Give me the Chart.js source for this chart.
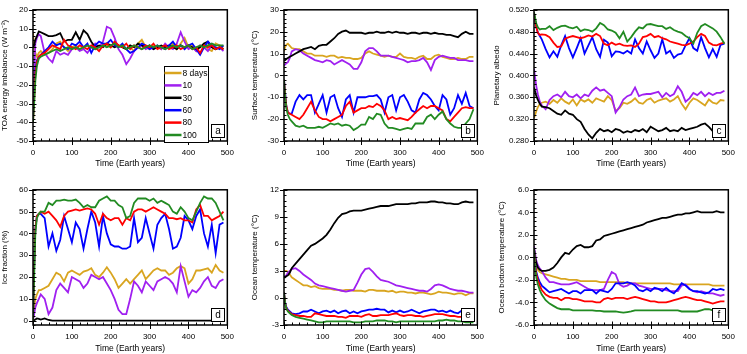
<!DOCTYPE html>
<html>
<head>
<meta charset="utf-8">
<script src="https://cdn.jsdelivr.net/npm/chart.js@4.4.0/dist/chart.umd.min.js"></script>
<style>
  body { margin: 0; background: #fff; width: 747px; height: 354px; position: relative; overflow: hidden; }
  canvas { position: absolute; }
</style>
</head>
<body>
<script>
// Time axis (Earth years), shared by every run
const years = [0, 3, 6, 10, 15, 20, 30, 40, 50, 60, 70, 80, 90, 100, 110, 120, 130, 140, 150, 160, 170, 180, 190, 200,
  210, 220, 230, 240, 250, 260, 270, 280, 290, 300, 310, 320, 330, 340, 350, 360, 370, 380, 390, 400, 410, 420, 430,
  440, 450, 460, 470, 480, 490];

const runLabels = ['8 days', '10', '30', '60', '80', '100'];
const runColors = ['#d9a520', '#a020f0', '#000000', '#0000ff', '#ff0000', '#228b22'];

// tick labels
const xTicks = [0, 100, 200, 300, 400, 500];
const toaTicks = [-50, -40, -30, -20, -10, 0, 10, 20];
const tsTicks = [-30, -20, -10, 0, 10, 20, 30];
const albTicks = [0.28, 0.32, 0.36, 0.40, 0.44, 0.48, 0.52];
const iceTicks = [0, 10, 20, 30, 40, 50, 60];
const ocTicks = [-3, 0, 3, 6, 9, 12];
const obTicks = [-6, -4, -2, 0, 2, 4, 6];

// (a) TOA energy imbalance
const toa8 = [8, 0, -3, -5, -3, -2, -4, -3, -1, 2, 3, 0, -2, 0, 1, -1, 0, 1, 0, -1, 0, 2, 1, 0, 3, 1, 0, -1, 0, -2, 2, 4, 0, -1, 1, 0, -1, 1, 0, 2, -1, 2, 5, 0, 1, -2, 0, 2, -1, -2, 2, 1, 0];
const toa10 = [-38, -15, 2, 5, 7, 6, -3, -6, -8, -2, -4, -3, -4, -1, 0, -2, -1, -3, 0, 2, 0, 3, 11, 10, 5, -1, -4, -9, -6, -2, 0, 1, -1, 0, -1, 1, -1, 2, 0, -1, 2, 8, 3, -1, 0, -2, 1, 0, -2, 1, -1, 0, -2];
const toa30 = [0, 1, 4, 6, 8.5, 8, 7, 6, 6, 6.5, 7.5, 3, 4, 4, 8, 4, 9, 7, 3, 0, 1, 0, 2, 1, 0, 1, 0, -1, 1, 0, 2, 1, 0, 1, -1, 0, 1, 0, 1, 0, -1, 1, 0, 1, 0, -1, 0, 2, 3, 0, -1, 0, -1];
const toa60 = [-38, -25, -12, -7, -5, -4, -2, 0, 3, 1, 2, 0, -1, 2, 1, 3, 0, 2, -3, 1, 3, 2, 2, 4, 1, 0, 2, -1, -3, -2, 0, 2, 1, -1, 0, 1, 0, -1, 1, 3, 0, 1, -1, 1, 2, -1, -4, 0, 3, 1, 0, -1, 1];
const toa80 = [-40, -28, -14, -8, -5, -4, -3, -1, 1, 0, -1, 4, 1, 0, -1, 1, 0, -1, 1, 0, -2, 1, 2, 0, 3, 1, 0, 2, -1, 1, 0, -1, 1, 0, 2, -1, 0, 1, -1, 0, 1, -1, 0, 1, -1, 0, -3, 1, 0, 1, -1, 0, -1];
const toa100 = [-40, -30, -18, -10, -6, -5, -4, -3, -2, -1, -2, -1, 0, -1, 0, -1, 0, 1, 0, -1, 0, 1, 0, 1, 2, 0, 1, -1, 0, 1, 0, -1, 0, 1, 0, 1, 0, -1, 0, 1, 0, 1, 0, 1, -1, 0, 1, 0, 1, 2, 1, 1, 1];

// (b) surface temperature
const ts8 = [11, 13, 14, 14.5, 13.5, 12.5, 12, 12, 11, 10, 10, 9, 9, 9, 8.5, 9, 9, 8, 8.5, 8, 8, 7.5, 7.5, 8, 10, 11, 10, 9.5, 9, 8.5, 9, 8.5, 8.5, 10, 8.5, 8, 8, 7.5, 8.5, 9, 7.5, 7.5, 9, 9.5, 8.5, 8, 7.5, 7.5, 8, 7.5, 7.5, 8.5, 8.5];
const ts10 = [4.5, 5, 5.5, 6, 8, 11, 12, 11.5, 10, 9, 8, 7, 6.5, 6, 7, 6.5, 5, 6, 7, 6, 5, 3, 3, 6, 11, 12.5, 12.5, 11, 9, 9, 9, 8.5, 8, 7.5, 7, 6, 6.5, 6.5, 7, 8, 6, 2.5, 7, 8.5, 9, 8.5, 8, 8, 7, 7, 7, 6.5, 6.5];
const ts30 = [7, 7, 7.5, 8, 8.5, 9, 10, 11, 12, 12.5, 13, 12, 13.5, 14, 14, 15.5, 17, 19, 20, 20.5, 19.5, 19.5, 19.5, 19.5, 19, 19.5, 19.5, 20, 19.5, 19.5, 20, 19.5, 20, 19.5, 19.5, 19, 19.5, 19.5, 19, 19.5, 19.5, 19, 19.5, 19, 19, 18.5, 18.5, 18, 17.5, 19, 20, 19, 19];
const ts60 = [-2, -8, -14, -17, -17.5, -17.5, -12, -9, -11, -9, -9, -17, -13, -9, -17, -10, -9, -15, -19, -11, -9, -17, -10, -10, -10, -9.5, -9.5, -9, -11, -17, -10, -9, -16, -10, -9, -12, -16, -17, -11, -8, -9, -11, -14, -16, -9, -11, -18, -15, -9, -13, -8, -14, -15];
const ts80 = [-2, -9, -14, -17, -17.5, -18, -19, -20, -18, -15, -12, -16, -19, -20, -20, -21, -20, -19, -18, -14, -12, -17, -16, -15, -15, -14, -14.5, -13, -14, -16, -20, -19, -20, -19.5, -20, -20.5, -19, -17, -15.5, -14, -15, -14, -14, -15, -16, -20, -21, -19, -17, -15, -14.5, -15, -15];
const ts100 = [-2, -10, -15, -18, -20, -21, -23, -23.5, -23, -24, -24, -24, -23.5, -24, -23, -22, -22.5, -22, -23, -22.5, -23, -25, -24, -22.5, -22.5, -19, -20, -17.5, -18, -22, -24, -24, -24.5, -25, -24.5, -24, -24.5, -22, -22, -22, -19, -18, -20, -18, -16.5, -20, -22, -23.5, -24, -24, -22, -20, -15.5];

// (c) planetary albedo
const alb8 = [0.322, 0.328, 0.335, 0.342, 0.348, 0.350, 0.352, 0.348, 0.355, 0.350, 0.358, 0.352, 0.348, 0.356, 0.345, 0.356, 0.352, 0.356, 0.350, 0.358, 0.355, 0.352, 0.362, 0.355, 0.335, 0.340, 0.350, 0.348, 0.352, 0.358, 0.350, 0.348, 0.355, 0.358, 0.350, 0.354, 0.356, 0.358, 0.352, 0.356, 0.362, 0.348, 0.338, 0.350, 0.358, 0.355, 0.350, 0.345, 0.356, 0.350, 0.348, 0.355, 0.354];
const alb10 = [0.412, 0.395, 0.380, 0.365, 0.352, 0.345, 0.338, 0.355, 0.362, 0.365, 0.360, 0.370, 0.362, 0.360, 0.365, 0.358, 0.365, 0.362, 0.372, 0.378, 0.372, 0.374, 0.368, 0.362, 0.332, 0.342, 0.356, 0.362, 0.365, 0.378, 0.362, 0.365, 0.366, 0.366, 0.368, 0.370, 0.360, 0.368, 0.362, 0.366, 0.380, 0.370, 0.352, 0.358, 0.368, 0.364, 0.370, 0.362, 0.368, 0.364, 0.368, 0.368, 0.372];
const alb30 = [0.378, 0.370, 0.362, 0.355, 0.348, 0.343, 0.342, 0.340, 0.335, 0.330, 0.328, 0.336, 0.330, 0.328, 0.320, 0.315, 0.302, 0.292, 0.285, 0.295, 0.302, 0.298, 0.300, 0.296, 0.302, 0.300, 0.295, 0.298, 0.296, 0.300, 0.298, 0.302, 0.296, 0.306, 0.302, 0.298, 0.300, 0.304, 0.298, 0.300, 0.298, 0.304, 0.300, 0.302, 0.304, 0.306, 0.310, 0.312, 0.306, 0.298, 0.296, 0.298, 0.298];
const alb60 = [0.515, 0.500, 0.488, 0.478, 0.472, 0.466, 0.448, 0.433, 0.444, 0.434, 0.455, 0.472, 0.450, 0.433, 0.450, 0.468, 0.440, 0.455, 0.470, 0.448, 0.434, 0.465, 0.460, 0.435, 0.444, 0.443, 0.440, 0.445, 0.440, 0.466, 0.450, 0.440, 0.462, 0.446, 0.432, 0.440, 0.466, 0.440, 0.445, 0.432, 0.438, 0.440, 0.455, 0.468, 0.450, 0.445, 0.470, 0.450, 0.433, 0.448, 0.434, 0.456, 0.458];
const alb80 = [0.515, 0.500, 0.488, 0.478, 0.474, 0.475, 0.474, 0.470, 0.460, 0.452, 0.453, 0.467, 0.470, 0.472, 0.470, 0.468, 0.470, 0.473, 0.471, 0.476, 0.472, 0.458, 0.455, 0.460, 0.456, 0.458, 0.455, 0.454, 0.455, 0.452, 0.458, 0.470, 0.472, 0.476, 0.470, 0.472, 0.468, 0.466, 0.462, 0.460, 0.458, 0.456, 0.455, 0.458, 0.462, 0.470, 0.476, 0.472, 0.460, 0.456, 0.455, 0.458, 0.460];
const alb100 = [0.515, 0.505, 0.495, 0.488, 0.484, 0.485, 0.485, 0.490, 0.483, 0.487, 0.490, 0.491, 0.488, 0.486, 0.489, 0.481, 0.484, 0.483, 0.480, 0.486, 0.496, 0.492, 0.484, 0.482, 0.478, 0.468, 0.480, 0.462, 0.470, 0.480, 0.488, 0.486, 0.493, 0.494, 0.492, 0.490, 0.490, 0.485, 0.488, 0.483, 0.480, 0.478, 0.472, 0.468, 0.458, 0.478, 0.490, 0.494, 0.490, 0.486, 0.480, 0.470, 0.458];

// (d) ice fraction
const ice8 = [0, 6, 10, 12, 14, 14, 15, 16, 19, 22, 21, 18, 22, 23, 22, 21, 22.5, 23, 24, 21, 20, 22, 24.5, 22, 19, 15, 17, 19, 17, 19, 21, 23, 19, 21, 23, 24, 23, 23, 21, 22, 24, 25, 24, 17, 19, 23, 23, 23.5, 24, 22, 25.5, 23, 22];
const ice10 = [0, 3, 6, 8, 10, 12, 10, 3, 6, 14, 17, 15, 13, 20, 19, 18, 15, 17, 21, 20, 19, 20, 17, 14, 10, 5, 3, 3, 10, 18, 16, 13, 18, 16, 14, 18, 19, 20, 19, 17, 13, 25, 18, 11, 14, 13, 15, 18, 20, 16, 15, 18, 19];
const ice30 = [0, 0.2, 0.5, 1, 0.8, 0.5, 1, 0.3, 0, 0, 0, 0, 0, 0, 0, 0, 0, 0, 0, 0, 0, 0, 0, 0, 0, 0, 0, 0, 0, 0, 0, 0, 0, 0, 0, 0, 0, 0, 0, 0, 0, 0, 0, 0, 0, 0, 0, 0, 0, 0, 0, 0, 0];
const ice60 = [0, 25, 42, 48, 49, 49, 47, 34, 40, 32, 37, 48, 42, 36, 45, 42, 33, 42, 50, 45, 34, 48, 40, 35, 34, 34, 33, 33, 34, 47, 36, 38, 47, 40, 33, 44, 47, 49, 42, 33, 34, 38, 48, 46, 42, 48, 51, 40, 34, 44, 31, 44, 45];
const ice80 = [0, 25, 42, 48, 49, 50, 49, 50, 48, 46, 43, 48, 50, 50.5, 51, 50.5, 51, 51.5, 51, 49, 44, 49, 47, 46, 47, 47, 44, 47, 46, 50, 51, 51, 50, 51, 52, 51, 50, 49, 47, 47, 46.5, 47, 46, 46, 45, 51, 53, 48, 48, 46, 47, 48, 50];
const ice100 = [0, 20, 40, 47, 49, 50, 50, 54, 53, 55, 55, 55.5, 55, 55, 55.5, 54, 52, 53, 52, 52, 55, 56, 57, 55, 55, 53, 52, 47, 48, 54, 56, 56, 56, 55, 56, 54, 55, 54, 53, 50, 49, 52, 50, 47, 46, 50, 54, 57, 56, 56, 54, 50, 46];

// (e) ocean temperature
const oc8 = [3.0, 3.0, 3.0, 2.9, 2.6, 2.3, 2.0, 1.7, 1.4, 1.4, 1.2, 1.3, 1.1, 1.0, 1.0, 1.0, 0.9, 0.9, 0.8, 0.9, 0.9, 0.8, 0.8, 0.8, 0.7, 0.9, 0.9, 0.8, 0.8, 0.8, 0.7, 0.8, 0.6, 0.7, 0.7, 0.6, 0.6, 0.5, 0.6, 0.6, 0.5, 0.4, 0.5, 0.7, 0.6, 0.6, 0.5, 0.4, 0.5, 0.5, 0.3, 0.5, 0.5];
const oc10 = [2.3, 2.4, 2.5, 2.8, 3.0, 3.2, 3.3, 3.0, 2.6, 2.3, 2.0, 1.6, 1.4, 1.3, 1.2, 1.1, 1.0, 0.9, 0.8, 0.7, 0.8, 0.9, 1.7, 2.6, 3.2, 3.3, 2.9, 2.4, 2.0, 1.9, 1.8, 1.6, 1.4, 1.3, 1.2, 1.1, 1.0, 0.9, 0.8, 0.8, 0.7, 1.0, 1.4, 1.5, 1.4, 1.2, 1.0, 0.9, 0.8, 0.8, 0.7, 0.6, 0.6];
const oc30 = [2.3, 2.3, 2.4, 2.5, 2.8, 3.3, 3.8, 4.3, 4.8, 5.3, 5.8, 6.0, 6.3, 6.6, 7.0, 7.6, 8.3, 8.9, 9.3, 9.4, 9.6, 9.7, 9.7, 9.7, 9.8, 9.9, 10.0, 10.1, 10.2, 10.2, 10.2, 10.3, 10.4, 10.4, 10.4, 10.4, 10.5, 10.5, 10.6, 10.6, 10.6, 10.7, 10.7, 10.6, 10.6, 10.5, 10.5, 10.4, 10.4, 10.6, 10.7, 10.6, 10.6];
const oc60 = [0.6, -0.5, -1.0, -1.3, -1.5, -1.7, -1.8, -1.7, -1.5, -1.5, -1.3, -1.5, -1.7, -1.5, -1.4, -1.6, -1.4, -1.7, -1.5, -1.4, -1.7, -1.5, -1.7, -1.5, -1.4, -1.3, -1.3, -1.2, -1.3, -1.3, -1.6, -1.4, -1.6, -1.4, -1.6, -1.5, -1.3, -1.5, -1.7, -1.5, -1.4, -1.3, -1.3, -1.5, -1.4, -1.6, -1.4, -1.6, -1.7, -1.4, -1.5, -1.6, -1.5];
const oc80 = [0.6, -0.6, -1.1, -1.4, -1.6, -1.8, -1.9, -2.0, -2.0, -2.1, -2.1, -1.7, -1.8, -1.9, -2.0, -2.0, -2.0, -2.1, -2.1, -2.2, -2.0, -2.0, -2.0, -2.1, -1.9, -1.8, -2.0, -2.0, -1.9, -1.9, -1.9, -1.8, -1.7, -1.9, -2.0, -1.9, -1.9, -2.0, -2.0, -2.1, -2.0, -1.9, -1.8, -1.8, -1.8, -1.9, -2.0, -2.0, -2.1, -2.1, -2.2, -2.2, -2.3];
const oc100 = [0.6, -0.6, -1.2, -1.5, -1.7, -1.9, -2.1, -2.2, -2.3, -2.4, -2.5, -2.6, -2.7, -2.7, -2.6, -2.6, -2.6, -2.6, -2.6, -2.6, -2.6, -2.7, -2.7, -2.7, -2.6, -2.6, -2.6, -2.5, -2.5, -2.5, -2.6, -2.6, -2.7, -2.6, -2.6, -2.6, -2.6, -2.6, -2.6, -2.6, -2.6, -2.6, -2.6, -2.5, -2.5, -2.4, -2.5, -2.5, -2.6, -2.6, -2.7, -2.7, -2.7];

// (f) ocean bottom temperature
const ob8 = [0.8, -0.3, -0.8, -1.1, -1.3, -1.4, -1.5, -1.6, -1.7, -1.8, -1.9, -1.9, -2.0, -2.0, -2.0, -2.1, -2.1, -2.1, -2.1, -2.1, -2.2, -2.2, -2.2, -2.2, -2.2, -2.2, -2.2, -2.3, -2.3, -2.3, -2.3, -2.3, -2.3, -2.3, -2.3, -2.3, -2.3, -2.3, -2.3, -2.4, -2.4, -2.4, -2.4, -2.4, -2.4, -2.4, -2.4, -2.4, -2.4, -2.5, -2.5, -2.5, -2.5];
const ob10 = [1.0, 0.3, -0.3, -0.7, -1.0, -1.2, -1.8, -2.2, -2.2, -2.3, -2.4, -2.4, -2.4, -2.3, -2.2, -2.4, -2.6, -2.8, -2.9, -2.9, -2.9, -2.8, -2.0, -1.3, -1.5, -2.4, -2.6, -2.5, -2.3, -2.3, -2.5, -2.6, -2.7, -2.8, -2.8, -2.8, -2.8, -2.9, -3.0, -3.0, -3.0, -2.5, -2.4, -2.8, -3.0, -3.1, -3.0, -3.1, -3.2, -3.2, -3.3, -3.4, -3.3];
const ob30 = [0.8, 0.0, -0.5, -0.9, -1.1, -1.2, -1.2, -1.1, -0.9, -0.5, 0.0, 0.4, 0.3, 0.7, 1.0, 1.1, 0.9, 0.9, 1.0, 1.5, 1.6, 1.9, 2.0, 2.1, 2.2, 2.3, 2.4, 2.5, 2.6, 2.7, 2.8, 2.9, 3.1, 3.2, 3.3, 3.4, 3.5, 3.5, 3.6, 3.7, 3.8, 3.8, 3.9, 3.9, 4.0, 4.1, 4.0, 4.0, 4.0, 4.0, 4.1, 4.0, 4.0];
const ob60 = [0.8, -0.6, -1.3, -1.8, -2.2, -2.5, -2.8, -3.1, -3.0, -2.9, -2.8, -3.0, -3.2, -3.0, -3.0, -3.2, -2.9, -2.9, -2.9, -3.2, -2.9, -3.0, -3.1, -2.8, -2.3, -2.3, -2.3, -2.2, -2.3, -2.5, -2.9, -3.0, -2.8, -3.0, -2.7, -2.8, -3.0, -2.7, -3.0, -3.2, -2.8, -2.3, -2.5, -2.8, -3.0, -3.0, -3.1, -3.2, -3.1, -2.8, -2.9, -2.8, -2.9];
const ob80 = [0.8, -0.8, -1.5, -2.0, -2.5, -2.9, -3.3, -3.5, -3.6, -3.6, -3.8, -3.6, -3.6, -3.7, -3.7, -3.8, -3.9, -3.9, -3.9, -4.0, -4.0, -3.7, -3.6, -3.7, -3.6, -3.6, -3.6, -3.7, -3.6, -3.5, -3.6, -3.7, -3.8, -3.9, -3.9, -4.0, -4.0, -4.0, -3.9, -3.8, -3.7, -3.6, -3.5, -3.6, -3.7, -3.8, -3.8, -3.9, -4.0, -4.1, -4.0, -3.9, -3.9];
const ob100 = [0.8, -1.0, -1.8, -2.4, -2.9, -3.3, -3.8, -4.1, -4.3, -4.5, -4.6, -4.6, -4.6, -4.7, -4.7, -4.7, -4.7, -4.7, -4.7, -4.75, -4.75, -4.8, -4.8, -4.8, -4.8, -4.85, -4.9, -4.85, -4.8, -4.7, -4.7, -4.7, -4.7, -4.7, -4.7, -4.7, -4.7, -4.7, -4.7, -4.7, -4.7, -4.8, -4.8, -4.8, -4.8, -4.8, -4.7, -4.6, -4.6, -4.7, -4.8, -4.8, -4.9];

const FONT = '"Liberation Sans", Arial, Helvetica, sans-serif';
Chart.defaults.font.family = FONT;
Chart.defaults.color = '#000';

// box, inward/outward tick marks, panel letter and the legend of panel (a)
const framePlugin = {
  id: 'frame',
  afterDatasetsDraw(chart, args, o) {
    const ctx = chart.ctx, a = chart.chartArea;
    const xs = chart.scales.x, ys = chart.scales.y;
    ctx.save();
    ctx.strokeStyle = '#000';
    ctx.lineWidth = 1;
    ctx.beginPath();
    // minor ticks (inside only)
    let n = Math.round((xs.max - xs.min) / o.xMinor);
    for (let k = 0; k <= n; k++) {
      const px = Math.round(xs.getPixelForValue(xs.min + k * o.xMinor)) + 0.5;
      ctx.moveTo(px, a.bottom); ctx.lineTo(px, a.bottom - 2.5);
    }
    n = Math.round((ys.max - ys.min) / o.yMinor);
    for (let k = 0; k <= n; k++) {
      const py = Math.round(ys.getPixelForValue(ys.min + k * o.yMinor)) + 0.5;
      ctx.moveTo(a.left, py); ctx.lineTo(a.left + 2.5, py);
    }
    // major ticks cross the axis
    xs.ticks.forEach(t => {
      const px = Math.round(xs.getPixelForValue(t.value)) + 0.5;
      ctx.moveTo(px, a.bottom - 3.5); ctx.lineTo(px, a.bottom + 4);
    });
    ys.ticks.forEach(t => {
      const py = Math.round(ys.getPixelForValue(t.value)) + 0.5;
      ctx.moveTo(a.left - 4, py); ctx.lineTo(a.left + 3.5, py);
    });
    ctx.stroke();

    ctx.lineWidth = 1.5;
    ctx.strokeRect(a.left, a.top, a.right - a.left, a.bottom - a.top);

    // panel letter
    ctx.lineWidth = 1;
    const bx = Math.round(a.right - 16) + 0.5, by = Math.round(a.bottom - 17) + 0.5;
    ctx.fillStyle = '#fff';
    ctx.fillRect(bx, by, 13, 13);
    ctx.strokeRect(bx, by, 13, 13);
    ctx.fillStyle = '#000';
    ctx.font = '10px ' + FONT;
    ctx.textAlign = 'center';
    ctx.textBaseline = 'middle';
    ctx.fillText(o.letter, bx + 6.5, by + 7);

    if (o.legend) {
      const lx = Math.round(a.right - 63) + 0.5, ly = Math.round(a.top + 56) + 0.5;
      ctx.fillStyle = '#fff';
      ctx.fillRect(lx, ly, 44, 76);
      ctx.strokeRect(lx, ly, 44, 76);
      ctx.font = '8.5px ' + FONT;
      ctx.textAlign = 'left';
      chart.data.datasets.forEach((ds, i) => {
        const yy = ly + 6.5 + i * 12.4;
        ctx.strokeStyle = ds.borderColor;
        ctx.lineWidth = 2.5;
        ctx.beginPath();
        ctx.moveTo(lx, yy); ctx.lineTo(lx + 17, yy);
        ctx.stroke();
        ctx.fillStyle = '#000';
        ctx.fillText(ds.label, lx + 18, yy + 0.5);
      });
    }
    ctx.restore();
  }
};

function runSets(series) {
  return series.map((vals, i) => ({
    label: runLabels[i],
    data: years.map((x, k) => ({ x: x, y: vals[k] })),
    borderColor: runColors[i],
    backgroundColor: runColors[i],
    borderWidth: 1.8,
    pointRadius: 0,
    tension: 0,
    order: series.length - 1 - i
  }));
}

function makePanel(p) {
  const cv = document.createElement('canvas');
  cv.width = p.w; cv.height = p.h;
  cv.style.left = p.left + 'px'; cv.style.top = p.top + 'px';
  document.body.appendChild(cv);
  new Chart(cv, {
    type: 'line',
    data: { datasets: runSets(p.series) },
    options: {
      responsive: false,
      animation: false,
      devicePixelRatio: 1,
      layout: { padding: { top: p.padTop, right: 2, left: 0, bottom: 0 } },
      plugins: {
        legend: { display: false },
        tooltip: { enabled: false },
        frame: { letter: p.letter, legend: p.legend, xMinor: 20, yMinor: p.yMinor }
      },
      scales: {
        x: {
          type: 'linear', min: 0, max: 500,
          grid: { display: false, drawTicks: false }, border: { display: false },
          afterBuildTicks: s => { s.ticks = xTicks.map(v => ({ value: v })); },
          afterFit: s => { s.height = p.xH; },
          ticks: { font: { size: 8 }, padding: 7, maxRotation: 0 },
          title: { display: true, text: 'Time (Earth years)', font: { size: 8.5 }, padding: 0 }
        },
        y: {
          type: 'linear', min: p.min, max: p.max,
          grid: { display: false, drawTicks: false }, border: { display: false },
          afterBuildTicks: s => { s.ticks = p.ticks.map(v => ({ value: v })); },
          afterFit: s => { s.width = p.yW; },
          ticks: { font: { size: 8 }, padding: 5, callback: v => v.toFixed(p.dec) },
          title: { display: true, text: p.title, font: { size: 8 }, padding: 0 }
        }
      }
    },
    plugins: [framePlugin]
  });
}

makePanel({ left: 0, top: 0, w: 241, h: 169, yW: 33, padTop: 3, xH: 28, letter: 'a', legend: true,
  series: [toa8, toa10, toa30, toa60, toa80, toa100], min: -50, max: 20, ticks: toaTicks, yMinor: 2, dec: 0,
  title: 'TOA energy imbalance (W m\u207B\u00B2)' });
makePanel({ left: 250, top: 0, w: 241, h: 169, yW: 34, padTop: 3, xH: 28, letter: 'b',
  series: [ts8, ts10, ts30, ts60, ts80, ts100], min: -30, max: 30, ticks: tsTicks, yMinor: 2, dec: 0,
  title: 'Surface temperature (\u00B0C)' });
makePanel({ left: 492, top: 0, w: 250, h: 169, yW: 42, padTop: 3, xH: 28, letter: 'c',
  series: [alb8, alb10, alb30, alb60, alb80, alb100], min: 0.28, max: 0.52, ticks: albTicks, yMinor: 0.008, dec: 3,
  title: 'Planetary albedo' });
makePanel({ left: 0, top: 180, w: 241, h: 174, yW: 33, padTop: 8, xH: 29, letter: 'd',
  series: [ice8, ice10, ice30, ice60, ice80, ice100], min: -2, max: 60, ticks: iceTicks, yMinor: 2, dec: 0,
  title: 'Ice fraction (%)' });
makePanel({ left: 250, top: 180, w: 241, h: 174, yW: 34, padTop: 8, xH: 29, letter: 'e',
  series: [oc8, oc10, oc30, oc60, oc80, oc100], min: -3, max: 12, ticks: ocTicks, yMinor: 0.6, dec: 0,
  title: 'Ocean temperature (\u00B0C)' });
makePanel({ left: 497, top: 180, w: 245, h: 174, yW: 37, padTop: 8, xH: 29, letter: 'f',
  series: [ob8, ob10, ob30, ob60, ob80, ob100], min: -6, max: 6, ticks: obTicks, yMinor: 0.4, dec: 1,
  title: 'Ocean bottom temperature (\u00B0C)' });
</script>
</body>
</html>
